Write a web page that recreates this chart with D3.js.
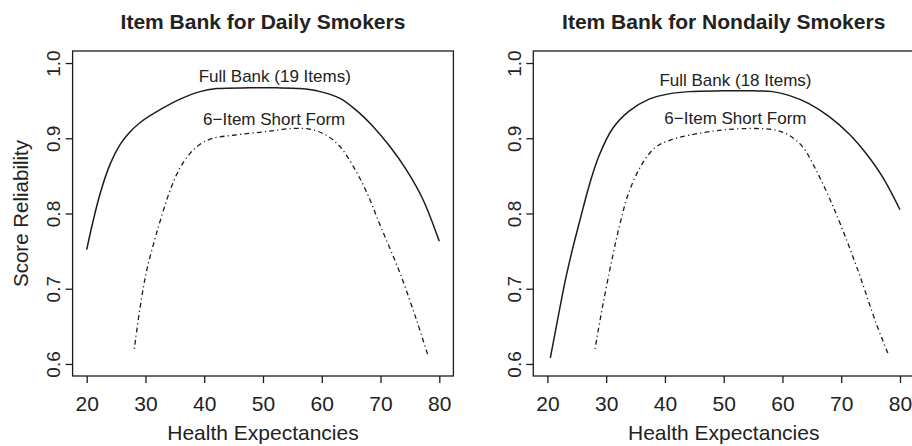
<!DOCTYPE html>
<html>
<head>
<meta charset="utf-8">
<script src="https://cdn.jsdelivr.net/npm/d3@7/dist/d3.min.js"></script>
<style>
  html, body { margin: 0; padding: 0; background: #fff; }
  svg { display: block; }
  text { font-family: "Liberation Sans", Arial, Helvetica, sans-serif; fill: #222; }
</style>
</head>
<body>
<svg id="chart" width="912" height="446"></svg>
<script>
// ---------- data ----------
const panelTitles = ["Item Bank for Daily Smokers", "Item Bank for Nondaily Smokers"];
const fullLabels = ["Full Bank (19 Items)", "Full Bank (18 Items)"];
const shortLabel = "6\u2212Item Short Form";
const xAxisTitle = "Health Expectancies";
const yAxisTitle = "Score Reliability";
const xTicks = [20, 30, 40, 50, 60, 70, 80];
const yTicks = [0.6, 0.7, 0.8, 0.9, 1.0];
const yTickLabels = ["0.6", "0.7", "0.8", "0.9", "1.0"];

// Daily smokers - full bank
const dailyFullX = [20, 21, 22.3, 24, 25.7, 27.2, 29.1, 32.5, 35.9, 39.3, 42.1, 47.8, 52.3, 56.3, 59.7, 63.1, 65.9, 68.8, 71.6, 74.4, 77.2, 80];
const dailyFullY = [0.752, 0.787, 0.827, 0.866, 0.892, 0.907, 0.921, 0.938, 0.952, 0.962, 0.966, 0.967, 0.967, 0.966, 0.962, 0.953, 0.937, 0.915, 0.889, 0.858, 0.819, 0.763];
// Daily smokers - short form
const dailyShortX = [28.1, 29.1, 30.2, 31.6, 32.5, 34.2, 35.9, 37.6, 39.3, 41.5, 44.9, 50.6, 55.1, 58.0, 60.8, 63.1, 65.4, 67.6, 69.9, 73.3, 76.1, 78.0];
const dailyShortY = [0.620, 0.676, 0.724, 0.766, 0.790, 0.831, 0.861, 0.880, 0.892, 0.900, 0.904, 0.909, 0.913, 0.912, 0.904, 0.889, 0.862, 0.829, 0.785, 0.721, 0.659, 0.613];
// Nondaily smokers - full bank
const nondailyFullX = [20.5, 21.4, 23.1, 24.25, 25.4, 27.1, 28.8, 31.1, 33.9, 37.3, 40.7, 44.1, 49.8, 55.0, 58.3, 61.1, 64.5, 67.9, 71.3, 74.1, 77.0, 80];
const nondailyFullY = [0.608, 0.645, 0.713, 0.752, 0.787, 0.837, 0.877, 0.913, 0.936, 0.952, 0.959, 0.962, 0.963, 0.963, 0.962, 0.957, 0.946, 0.929, 0.906, 0.881, 0.849, 0.805];
// Nondaily smokers - short form
const nondailyShortX = [28.1, 29.4, 31.1, 32.4, 33.9, 36.2, 38.4, 40.7, 44.1, 49.8, 55.4, 58.8, 61.1, 63.4, 65.7, 67.9, 69.9, 73.0, 75.9, 78.0];
const nondailyShortY = [0.620, 0.677, 0.743, 0.788, 0.829, 0.867, 0.888, 0.897, 0.904, 0.911, 0.913, 0.911, 0.904, 0.889, 0.858, 0.822, 0.785, 0.721, 0.655, 0.613];

// label anchor points (data units)
const fullLabelPos = [[52, 0.9747], [52, 0.9694]];
const shortLabelPos = [[51.9, 0.9176], [52, 0.919]];

// ---------- layout ----------
const svg = d3.select("#chart");
const boxTop = 51, boxBottom = 376;
const boxes = [[72.6, 453.4], [533.3, 914.1]];
const xDomain = [17.6, 82.4];
const yDomain = [0.584, 1.016];
const ink = "#1c1c1c";

const series = [
  { full: [dailyFullX, dailyFullY], short: [dailyShortX, dailyShortY] },
  { full: [nondailyFullX, nondailyFullY], short: [nondailyShortX, nondailyShortY] }
];

const zip = (xs, ys) => xs.map((x, i) => [x, ys[i]]);

boxes.forEach((b, p) => {
  const g = svg.append("g");
  const x = d3.scaleLinear().domain(xDomain).range(b);
  const y = d3.scaleLinear().domain(yDomain).range([boxBottom, boxTop]);
  const cx = (b[0] + b[1]) / 2;

  // title
  g.append("text").attr("x", cx).attr("y", 29.3)
    .attr("text-anchor", "middle").attr("font-weight", "bold").attr("font-size", 21)
    .text(panelTitles[p]);

  // curves
  const line = d3.line().x(d => x(d[0])).y(d => y(d[1])).curve(d3.curveCatmullRom.alpha(0.5));
  g.append("path").datum(zip(...series[p].full))
    .attr("d", line).attr("fill", "none").attr("stroke", ink).attr("stroke-width", 1.5);
  g.append("path").datum(zip(...series[p].short))
    .attr("d", line).attr("fill", "none").attr("stroke", ink).attr("stroke-width", 1.3)
    .attr("stroke-dasharray", "1.2,3.2,4.8,3.2");

  // box
  g.append("rect").attr("x", b[0]).attr("y", boxTop)
    .attr("width", b[1] - b[0]).attr("height", boxBottom - boxTop)
    .attr("fill", "none").attr("stroke", ink).attr("stroke-width", 1.3);

  // x axis
  const xa = g.append("g").attr("transform", `translate(0,${boxBottom})`)
    .call(d3.axisBottom(x).tickValues(xTicks).tickSize(7).tickFormat(d3.format("d")));
  xa.select(".domain").remove();
  xa.selectAll(".tick line").attr("stroke", ink).attr("stroke-width", 1.3);
  xa.selectAll(".tick text").attr("y", 35).attr("dy", null)
    .attr("font-size", 21).attr("font-family", null).attr("fill", "#222");

  // y axis
  const ya = g.append("g").attr("transform", `translate(${b[0]},0)`)
    .call(d3.axisLeft(y).tickValues(yTicks).tickSize(7).tickFormat((d, i) => yTickLabels[i]));
  ya.select(".domain").remove();
  ya.selectAll(".tick line").attr("stroke", ink).attr("stroke-width", 1.3);
  ya.selectAll(".tick text")
    .attr("x", null).attr("dy", null)
    .attr("transform", "translate(-12.5,0) rotate(-90)")
    .attr("text-anchor", "middle")
    .attr("font-size", 19).attr("font-family", null).attr("fill", "#222");

  // x axis title
  g.append("text").attr("x", cx).attr("y", 440.3)
    .attr("text-anchor", "middle").attr("font-size", 21).text(xAxisTitle);

  // y axis title (left panel only)
  if (p === 0) {
    const yc = (boxTop + boxBottom) / 2;
    g.append("text").attr("transform", `translate(28.3,${yc}) rotate(-90)`)
      .attr("text-anchor", "middle").attr("font-size", 20.5).text(yAxisTitle);
  }

  // curve labels
  g.append("text").attr("x", x(fullLabelPos[p][0])).attr("y", y(fullLabelPos[p][1]))
    .attr("text-anchor", "middle").attr("font-size", 17).text(fullLabels[p]);
  g.append("text").attr("x", x(shortLabelPos[p][0])).attr("y", y(shortLabelPos[p][1]))
    .attr("text-anchor", "middle").attr("font-size", 17).text(shortLabel);
});
</script>
</body>
</html>
